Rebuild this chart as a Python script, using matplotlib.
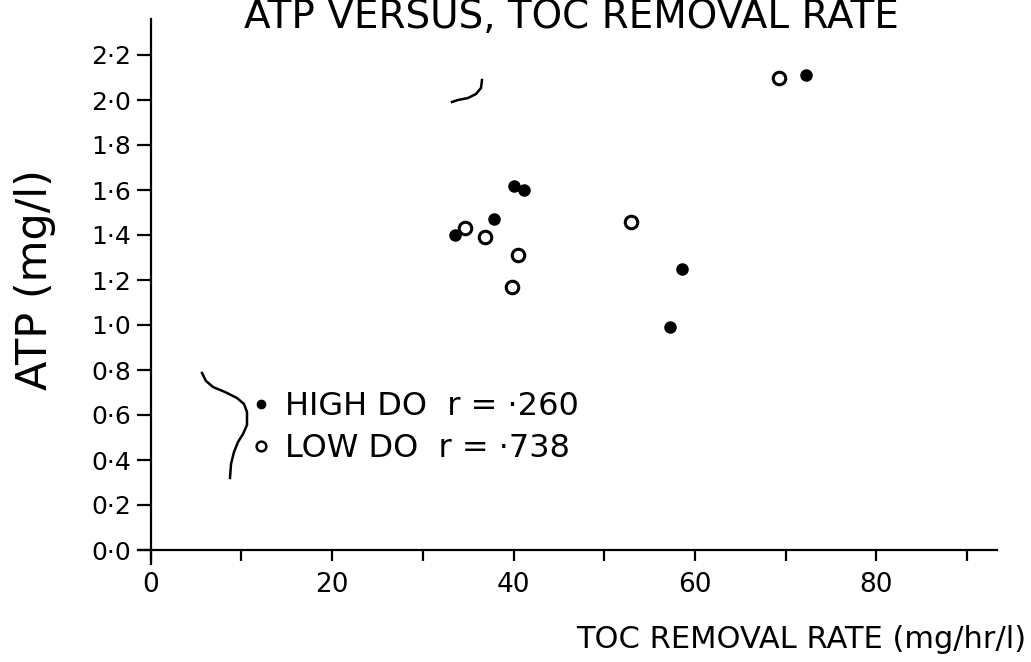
import numpy as np
import matplotlib
matplotlib.use('Agg')
import matplotlib.pyplot as plt
from matplotlib.lines import Line2D

plt.rcParams['font.family'] = ['DejaVu Sans']

# data
high_x = [33.6, 37.8, 40.0, 41.1, 57.2, 58.6, 72.2]
high_y = [1.40, 1.47, 1.62, 1.60, 0.99, 1.25, 2.11]
low_x = [34.7, 36.8, 39.8, 40.5, 52.9, 69.3]
low_y = [1.43, 1.39, 1.17, 1.31, 1.46, 2.10]

x_ticks = np.arange(0, 91, 10)
x_labels = ['0', '', '20', '', '40', '', '60', '', '80', '']
y_ticks = np.round(np.arange(0, 2.21, 0.2), 1)
y_labels = [f'{v:.1f}'.replace('.', '\u00b7') for v in y_ticks]

high_label = 'HIGH DO  r = \u00b7260'
low_label = 'LOW DO  r = \u00b7738'

W, H = 1031, 662
fig = plt.figure(figsize=(W / 100, H / 100), dpi=100)
ax = fig.add_axes([138 / W, 98.5 / H, 859 / W, 544.5 / H])

ax.plot(high_x, high_y, linestyle='none', marker='o', color='black', markersize=8)
ax.plot(low_x, low_y, linestyle='none', marker='o', markerfacecolor='white',
        markeredgecolor='black', markeredgewidth=2.2, markersize=9)

ax.set_xlim(-1.4, 93.3)
ax.set_ylim(-0.06, 2.36)
for s in ['top', 'right']:
    ax.spines[s].set_visible(False)
ax.spines['left'].set_position(('data', 0))
ax.spines['bottom'].set_position(('data', 0))
ax.spines['left'].set_linewidth(1.6)
ax.spines['bottom'].set_linewidth(1.6)

ax.set_xticks(x_ticks)
ax.set_xticklabels(x_labels, fontsize=19)
ax.set_yticks(y_ticks)
ax.set_yticklabels(y_labels, fontsize=18)
ax.tick_params(axis='x', direction='out', length=8, width=1.6, pad=8)
ax.tick_params(axis='y', direction='out', length=10, width=1.6, pad=4)

fig.text(571 / W, 1 - 28 / H, 'ATP VERSUS, TOC REMOVAL RATE', ha='center',
         va='baseline', fontsize=28)
fig.text(35 / W, 1 - 280 / H, 'ATP (mg/l)', rotation=90, ha='center',
         va='center', fontsize=31)
fig.text(1026 / W, 1 - 640 / H, 'TOC REMOVAL RATE (mg/hr/l)', ha='right',
         va='center', fontsize=22)

handles = [Line2D([], [], linestyle='none', marker='o', color='black', markersize=6),
           Line2D([], [], linestyle='none', marker='o', markerfacecolor='white',
                  markeredgecolor='black', markeredgewidth=1.8, markersize=7)]
ax.legend(handles, [high_label, low_label], loc='upper left',
          bbox_to_anchor=(251 / W, 1 - 391 / H), bbox_transform=fig.transFigure,
          frameon=False, fontsize=23, handlelength=0.6, handletextpad=0.45,
          borderpad=0, borderaxespad=0, labelspacing=0.35)

# hand-drawn brace next to the key, and a stray pen stroke
bx = np.array([202, 206, 213, 225, 237, 244, 247, 247, 243, 238, 234, 231, 230])
by = np.array([373, 381, 387, 392, 398, 404, 412, 425, 434, 442, 452, 464, 478])
fig.add_artist(Line2D(bx / W, 1 - by / H, color='black', linewidth=1.8,
                      transform=fig.transFigure))
sx = np.array([482, 481, 476, 468, 458, 452])
sy = np.array([80, 88, 94, 98, 100, 102])
fig.add_artist(Line2D(sx / W, 1 - sy / H, color='black', linewidth=1.8,
                      transform=fig.transFigure))

fig.savefig('out.png', dpi=100)
